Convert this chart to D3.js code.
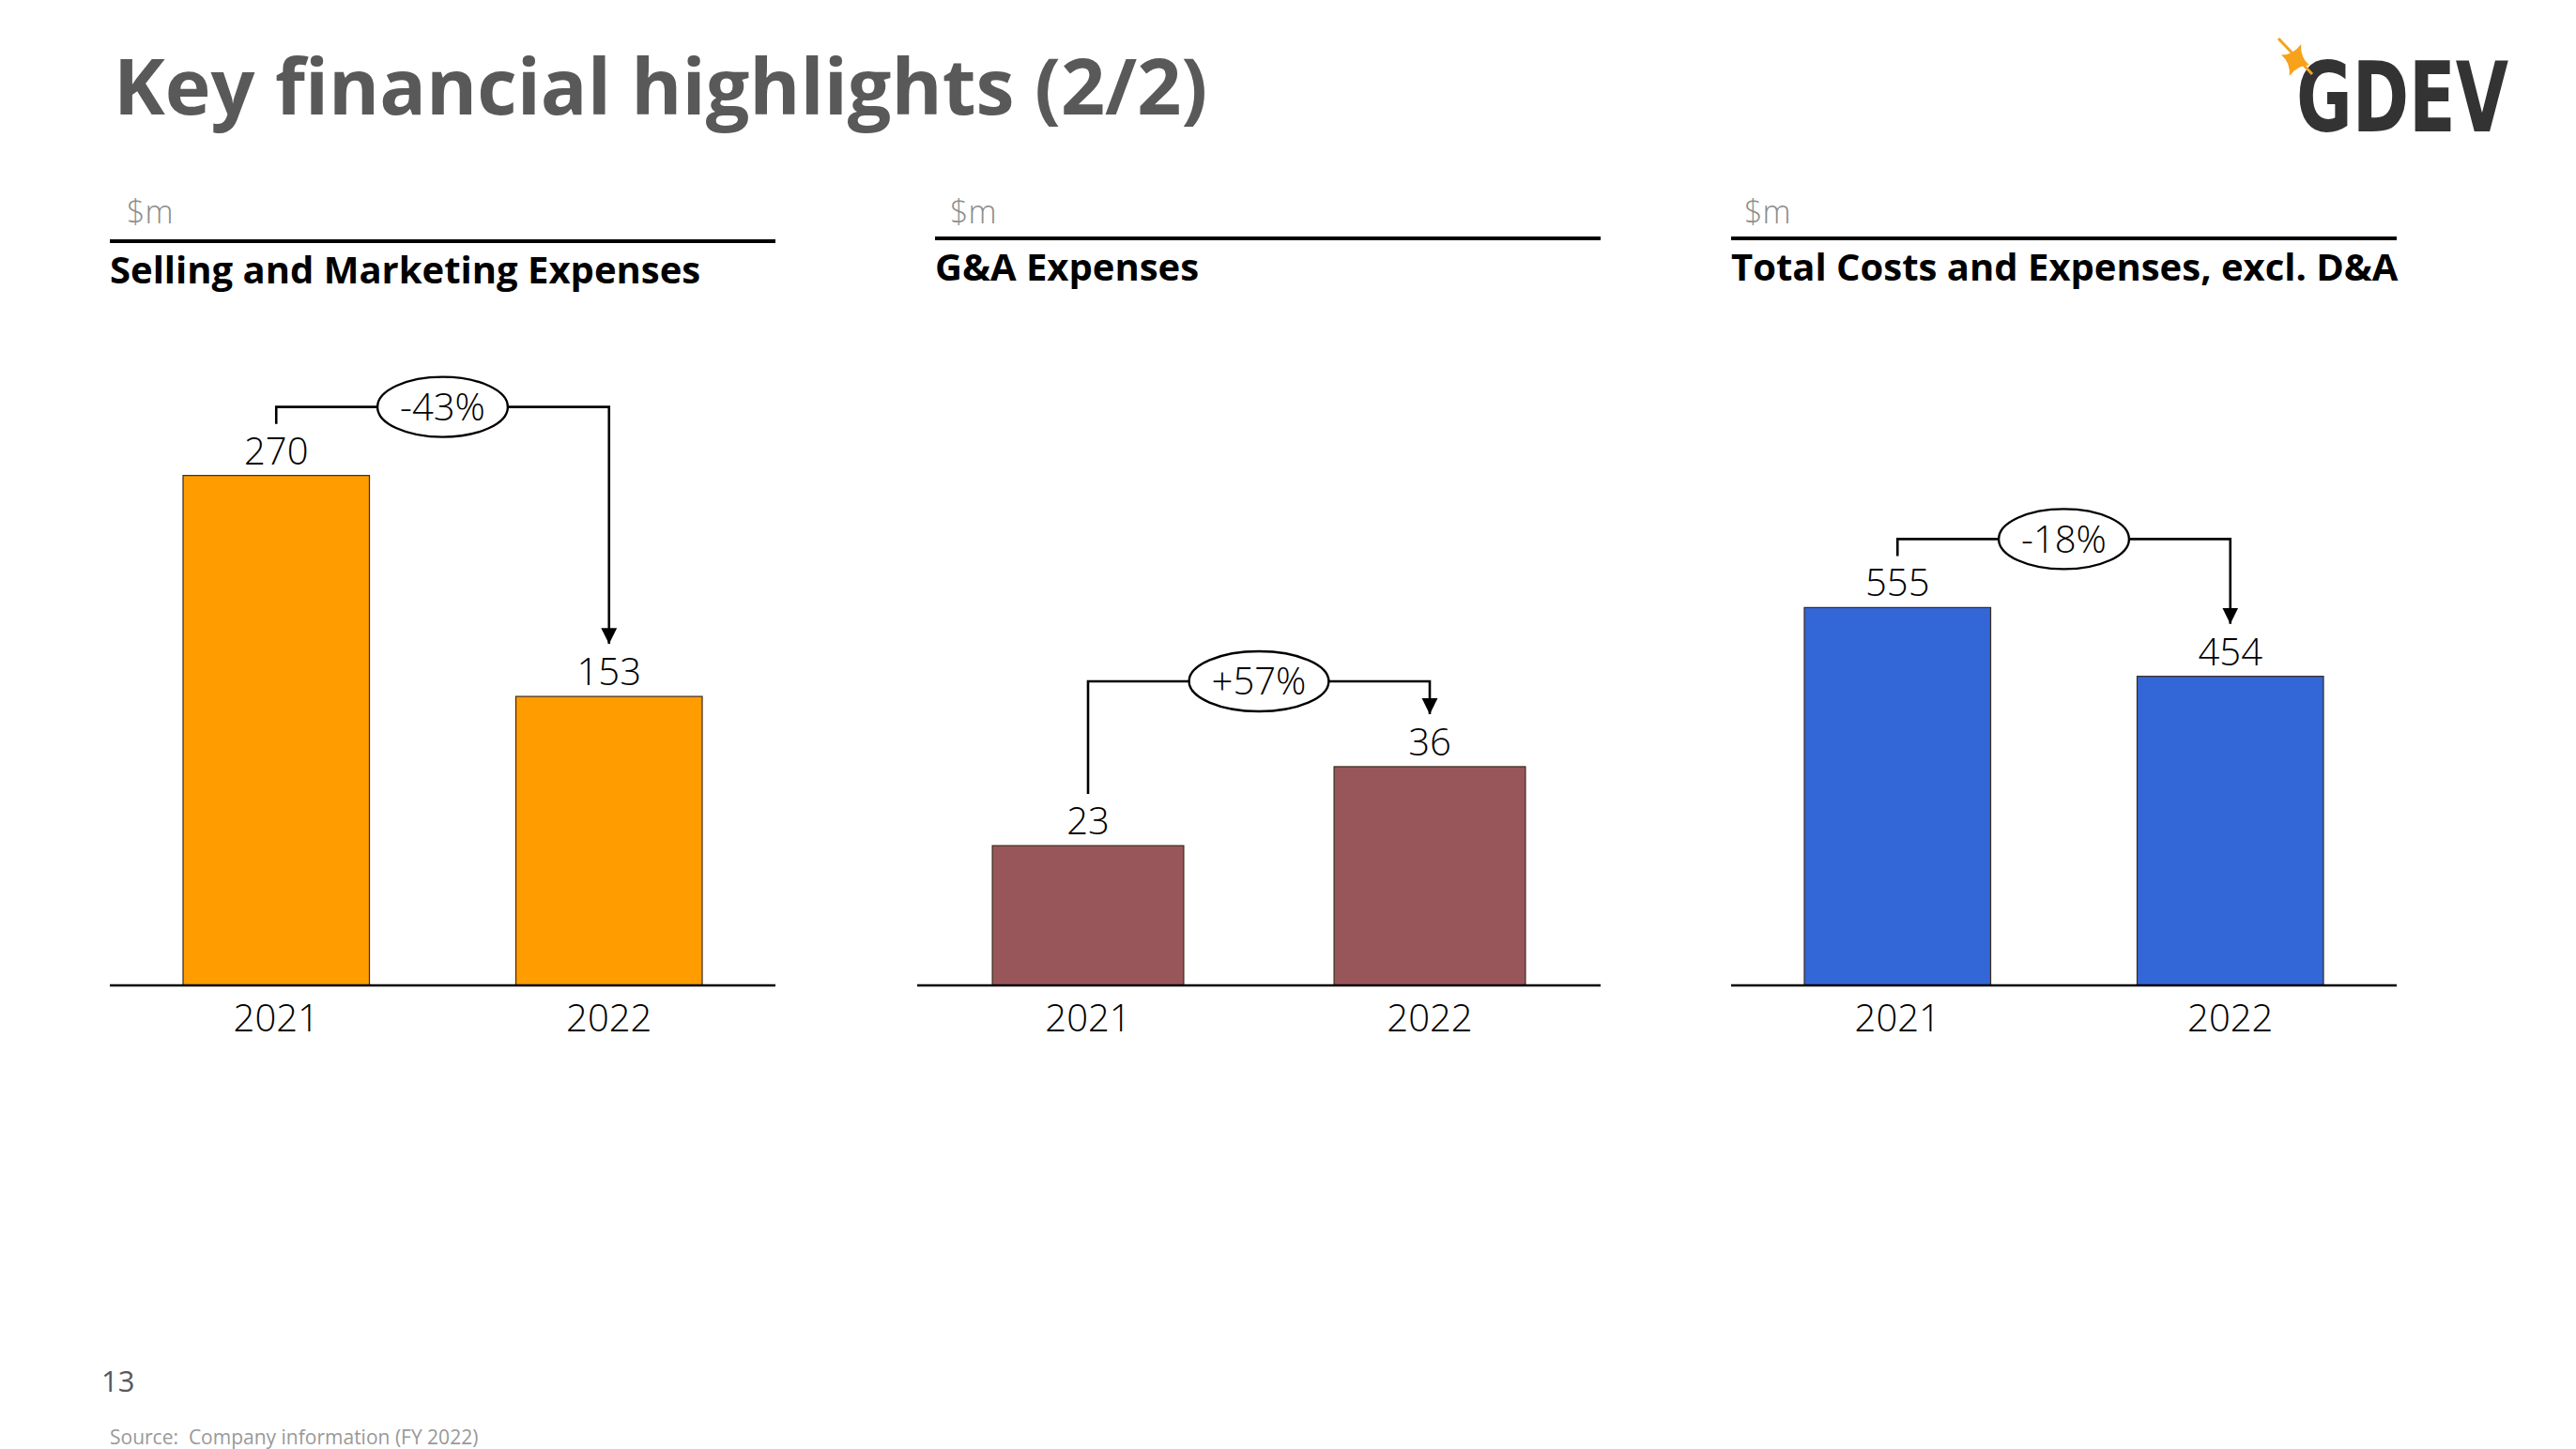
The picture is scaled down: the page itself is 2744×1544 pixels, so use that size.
<!DOCTYPE html>
<html><head><meta charset="utf-8">
<script src="https://cdn.jsdelivr.net/npm/d3@7"></script>
<style>
html,body{margin:0;padding:0;background:#fff;}
svg{display:block;}
</style></head>
<body>
<svg id="c" width="2744" height="1544"></svg>
<script>
// ---------- data ----------
const years = ["2021", "2022"];
const panelTitles = ["Selling and Marketing Expenses", "G&A Expenses", "Total Costs and Expenses, excl. D&A"];
const unitLabel = "$m";
const sellingMarketing = [270, 153];
const gaExpenses = [23, 36];
const totalCosts = [555, 454];
const changeLabels = ["-43%", "+57%", "-18%"];
const pageTitle = "Key financial highlights (2/2)";
const pageNumber = "13";
const sourceNote = "Source:  Company information (FY 2022)";

// ---------- layout / style ----------
const svg = d3.select("#c");
const FONT = "'Open Sans', 'Noto Sans', sans-serif";
const baseY = 1050, plotTop = 400;
const panels = [
  {values: sellingMarketing, color: "#FF9C00", x0: 117, x1: 826, hx0: 117, hx1: 826, lineY: 257, titleY: 302, unitX: 135, yMax: 323, bracketOff: 73},
  {values: gaExpenses, color: "#99565A", x0: 977, x1: 1705, hx0: 996, hx1: 1705, lineY: 254, titleY: 299, unitX: 1012, yMax: 100.4, bracketOff: 91},
  {values: totalCosts, color: "#3366D6", x0: 1844, x1: 2553, hx0: 1844, hx1: 2553, lineY: 254, titleY: 299, unitX: 1858, yMax: 896, bracketOff: 73}
];

// arrow marker
svg.append("defs").append("marker")
  .attr("id", "arrow").attr("viewBox", "0 0 10 10").attr("refX", 10).attr("refY", 5)
  .attr("markerWidth", 6.5).attr("markerHeight", 7.5).attr("markerUnits", "strokeWidth")
  .attr("orient", "auto")
  .append("path").attr("d", "M0,0 L10,5 L0,10 Z").attr("fill", "#000");

// title
svg.append("text").attr("x", 121).attr("y", 122)
  .attr("font-family", FONT).attr("font-weight", 700).attr("font-size", 82.5)
  .attr("fill", "#595959").text(pageTitle);

// logo
const logo = svg.append("g");
logo.append("text").attr("x", 2446).attr("y", 140)
  .attr("font-family", "'DejaVu Sans Condensed','DejaVu Sans',sans-serif").attr("font-weight", 700)
  .attr("font-size", 104).attr("fill", "#333")
  .attr("textLength", 226).attr("lengthAdjust", "spacingAndGlyphs").text("GDEV");
logo.append("line").attr("x1", 2427).attr("y1", 41).attr("x2", 2463).attr("y2", 79)
  .attr("stroke", "#F7A21B").attr("stroke-width", 3);
logo.append("path")
  .attr("d", "M2445,46 Q2449,60 2461,64 Q2449,68 2445,82 Q2441,68 2429,64 Q2441,60 2445,46 Z")
  .attr("transform", "rotate(20,2445,64)")
  .attr("fill", "#F7A21B");

panels.forEach((p, i) => {
  const g = svg.append("g");
  const x = d3.scaleBand().domain(years).range([p.x0, p.x1]).paddingInner(0.44).paddingOuter(0.22);
  const y = d3.scaleLinear().domain([0, p.yMax]).range([baseY, plotTop]);

  // header
  g.append("text").attr("x", p.unitX).attr("y", 238)
    .attr("font-family", FONT).attr("font-weight", 300).attr("font-size", 34)
    .attr("fill", "#8c8c8c").text(unitLabel);
  g.append("line").attr("x1", p.hx0).attr("x2", p.hx1).attr("y1", p.lineY).attr("y2", p.lineY)
    .attr("stroke", "#000").attr("stroke-width", 4);
  g.append("text").attr("x", p.hx0).attr("y", p.titleY)
    .attr("font-family", FONT).attr("font-weight", 700).attr("font-size", 40)
    .attr("fill", "#000").text(panelTitles[i]);

  // bars
  g.selectAll("rect").data(p.values).join("rect")
    .attr("x", (d, j) => x(years[j])).attr("width", x.bandwidth())
    .attr("y", d => y(d)).attr("height", d => baseY - y(d))
    .attr("fill", p.color).attr("stroke", "#3a2a1a").attr("stroke-width", 1.2);

  // value labels
  g.selectAll("text.val").data(p.values).join("text").attr("class", "val")
    .attr("x", (d, j) => x(years[j]) + x.bandwidth() / 2).attr("y", d => y(d) - 12)
    .attr("text-anchor", "middle").attr("font-family", FONT).attr("font-weight", 300)
    .attr("font-size", 40).attr("fill", "#000").text(d => d);

  // axis
  const ax = g.append("g").attr("transform", `translate(0,${baseY})`)
    .call(d3.axisBottom(x).tickSize(0).tickPadding(21));
  ax.select(".domain").attr("stroke", "#000").attr("stroke-width", 2.5).attr("d", `M${p.x0},0H${p.x1}`);
  ax.selectAll("text").attr("font-family", FONT).attr("font-weight", 300)
    .attr("font-size", 40).attr("fill", "#000").attr("dy", "0.71em");

  // change bracket
  const c1 = x(years[0]) + x.bandwidth() / 2, c2 = x(years[1]) + x.bandwidth() / 2;
  const top = y(d3.max(p.values)) - p.bracketOff;
  const start = y(p.values[0]) - 55, tip = y(p.values[1]) - 56;
  g.append("path").attr("d", `M${c1},${start}V${top}H${c2}V${tip}`)
    .attr("fill", "none").attr("stroke", "#000").attr("stroke-width", 2.6)
    .attr("marker-end", "url(#arrow)");
  const cx = (c1 + c2) / 2;
  const ell = g.append("ellipse").attr("cx", cx).attr("cy", top).attr("ry", 32)
    .attr("fill", "#fff").attr("stroke", "#000").attr("stroke-width", 2.4);
  const t = g.append("text").attr("x", cx).attr("y", top).attr("dy", "0.36em")
    .attr("text-anchor", "middle").attr("font-family", FONT).attr("font-weight", 300)
    .attr("font-size", 40).attr("fill", "#000").text(changeLabels[i]);
  ell.attr("rx", t.node().getComputedTextLength() / 2 + 24);
});

// footer
svg.append("text").attr("x", 108).attr("y", 1483).attr("font-family", FONT).attr("font-weight", 400)
  .attr("font-size", 31).attr("fill", "#595959").text(pageNumber);
svg.append("text").attr("x", 117).attr("y", 1539).attr("font-family", FONT).attr("font-weight", 400)
  .attr("font-size", 21).attr("fill", "#999").attr("xml:space", "preserve").style("white-space", "pre").text(sourceNote);
</script>
</body></html>
